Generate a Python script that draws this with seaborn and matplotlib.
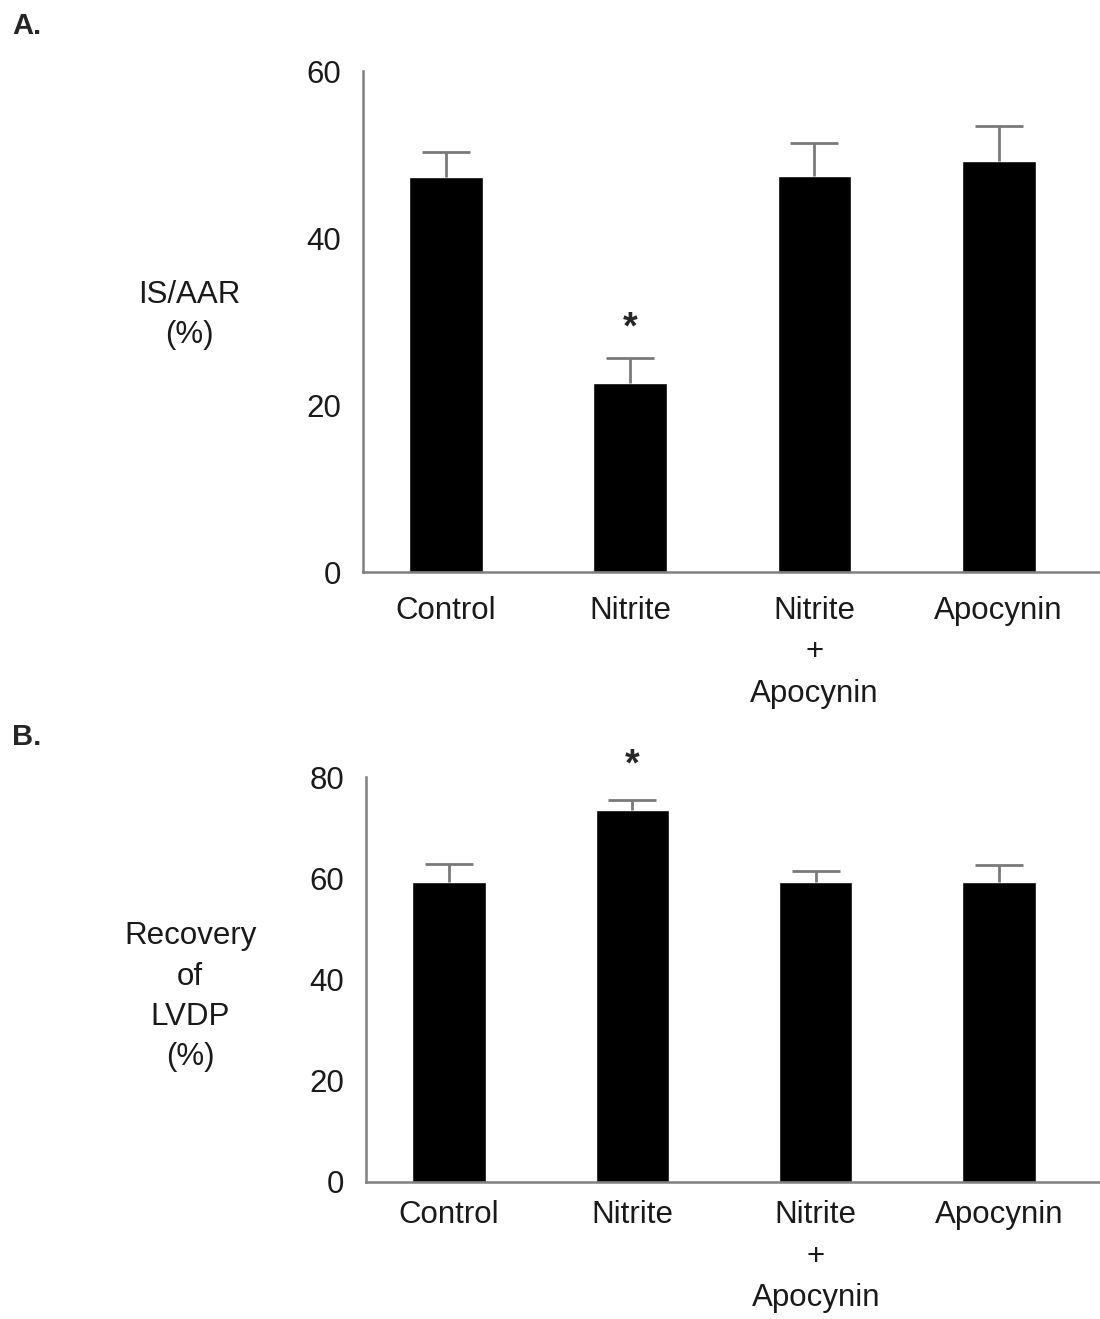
import matplotlib
matplotlib.use("Agg")
import matplotlib.pyplot as plt
import pandas as pd
import seaborn as sns

groups = ["Control", "Nitrite", "Nitrite\n+\nApocynin", "Apocynin"]

is_aar = [47.3, 22.6, 47.4, 49.2]
is_aar_err = [3.0, 3.1, 4.0, 4.2]

lvdp = [59.3, 73.5, 59.3, 59.3]
lvdp_err = [3.6, 2.0, 2.2, 3.4]

sns.set_theme(style="white")
plt.rcParams["font.family"] = ["Liberation Sans", "DejaVu Sans"]

fig = plt.figure(figsize=(11, 13.19), dpi=100)
ax_a = fig.add_axes([0.330, 0.5663, 0.670, 0.3797])
ax_b = fig.add_axes([0.333, 0.1039, 0.667, 0.3070])


def draw_panel(ax, values, errs, ylim, yticks, ylabel, label_xy, star_y, xpad):
    df = pd.DataFrame({"group": groups, "value": values})
    sns.barplot(data=df, x="group", y="value", color="black", width=0.40,
                errorbar=None, saturation=1, ax=ax)
    _, caps, _ = ax.errorbar(range(len(groups)), values,
                             yerr=[[0] * len(errs), errs], fmt="none",
                             ecolor="#7a7a7a", elinewidth=2, capsize=17,
                             capthick=2, zorder=1)
    caps[0].set_visible(False)  # only the upper cap
    ax.set_xlim(-0.45, 3.55)
    ax.set_ylim(*ylim)
    ax.set_yticks(yticks)
    ax.tick_params(axis="y", direction="out", length=6, width=1.5,
                   color="#808080", labelsize=22.5, labelcolor="#1a1a1a", pad=10)
    ax.tick_params(axis="x", length=0, labelsize=22.5, labelcolor="#1a1a1a", pad=xpad)
    for lab in ax.get_xticklabels():
        lab.set_linespacing(1.5)
        lab.set_va("top")
    for side in ["top", "right"]:
        ax.spines[side].set_visible(False)
    for side in ["left", "bottom"]:
        ax.spines[side].set_color("#808080")
        ax.spines[side].set_linewidth(1.8)
    ax.set_xlabel("")
    ax.set_ylabel(ylabel, rotation=0, fontsize=22.5, color="#1a1a1a",
                  ha="center", va="center", linespacing=1.45)
    ax.yaxis.set_label_coords(*label_xy)
    ax.text(1, star_y, "*", ha="center", va="center", fontsize=27,
            fontweight="bold", clip_on=False)


draw_panel(ax_a, is_aar, is_aar_err, (0, 60), [0, 20, 40, 60],
           "IS/AAR\n(%)", (-0.235, 0.513), 29.2, 17)
draw_panel(ax_b, lvdp, lvdp_err, (0, 80), [0, 20, 40, 60, 80],
           "Recovery\nof\nLVDP\n(%)", (-0.24, 0.457), 82.3, 13)

fig.text(0.011, 0.980, "A.", fontsize=21, fontweight="bold", ha="left", va="center")
fig.text(0.011, 0.441, "B.", fontsize=21, fontweight="bold", ha="left", va="center")

fig.savefig("out.png", dpi=100, facecolor="white")
